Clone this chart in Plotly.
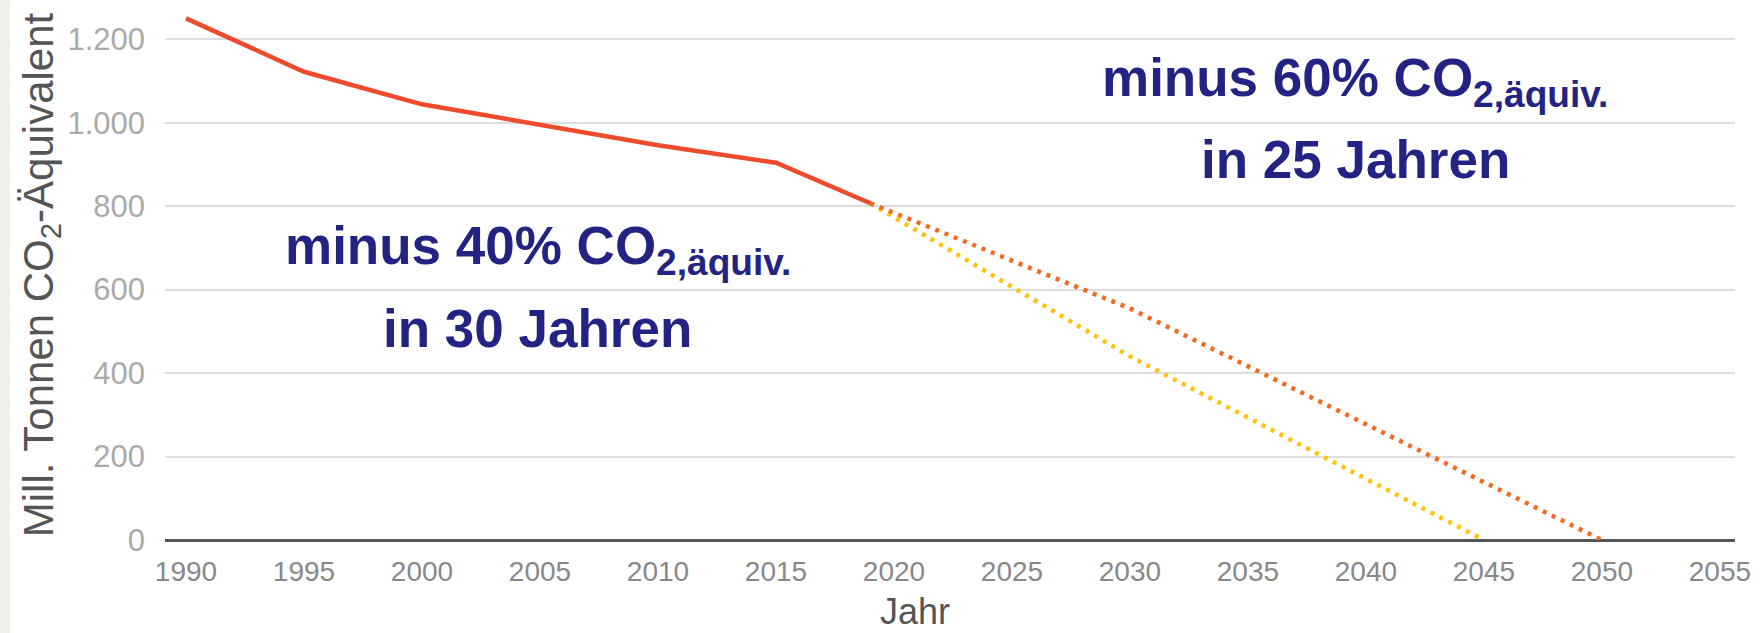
import plotly.graph_objects as go

# Historical emissions (Mill. t CO2-equivalent)
hist_years = [1990, 1995, 2000, 2005, 2010, 2015, 2019]
hist_values = [1250, 1122, 1044, 995, 946, 904, 807]

# Target path 2050 (orange dotted)
path2050_years = [2019, 2030, 2050]
path2050_values = [807, 555, 0]

# Target path 2045 (yellow dotted)
path2045_years = [2019, 2030, 2045]
path2045_values = [807, 440, 0]

x_ticks = [1990, 1995, 2000, 2005, 2010, 2015, 2020, 2025, 2030, 2035, 2040, 2045, 2050, 2055]
y_ticks = [0, 200, 400, 600, 800, 1000, 1200]
y_ticklabels = ["0", "200", "400", "600", "800", "1.000", "1.200"]

NAVY = "#232383"

fig = go.Figure()
fig.add_trace(go.Scatter(x=path2045_years, y=path2045_values, mode="lines",
                         line=dict(color="#ffc20e", width=4.5, dash="4px,6px"),
                         showlegend=False, hoverinfo="skip"))
fig.add_trace(go.Scatter(x=path2050_years, y=path2050_values, mode="lines",
                         line=dict(color="#f36a1e", width=4.5, dash="4px,6px"),
                         showlegend=False, hoverinfo="skip"))
fig.add_trace(go.Scatter(x=hist_years, y=hist_values, mode="lines",
                         line=dict(color="#ee4a2c", width=4.5),
                         showlegend=False))

ann_font = dict(family="Liberation Sans, Arial, sans-serif", size=53, color=NAVY)
annotations = [
    dict(x=2004.9, y=697, xref="x", yref="y", text="<b>minus 40% CO<sub>2,äquiv.</sub></b>",
         showarrow=False, font=ann_font, xanchor="center", yanchor="middle"),
    dict(x=2004.9, y=508, xref="x", yref="y", text="<b>in 30 Jahren</b>",
         showarrow=False, font=ann_font, xanchor="center", yanchor="middle"),
    dict(x=2039.55, y=1098, xref="x", yref="y", text="<b>minus 60% CO<sub>2,äquiv.</sub></b>",
         showarrow=False, font=ann_font, xanchor="center", yanchor="middle"),
    dict(x=2039.55, y=911, xref="x", yref="y", text="<b>in 25 Jahren</b>",
         showarrow=False, font=ann_font, xanchor="center", yanchor="middle"),
    # x-axis title
    dict(x=0, y=0, xref="paper", yref="paper", text="Jahr", showarrow=False,
         font=dict(family="Liberation Sans, Arial, sans-serif", size=36, color="#555555"),
         xanchor="center", yanchor="middle"),
]

L, R, T, B = 165, 26, 10, 93
W, H = 1761, 633
pw, ph = W - L - R, H - T - B
annotations[-1]["x"] = (915 - L) / pw
annotations[-1]["y"] = (H - B - 611) / ph

fig.update_layout(
    width=W, height=H,
    margin=dict(l=L, r=R, t=T, b=B, autoexpand=False),
    paper_bgcolor="white", plot_bgcolor="white",
    annotations=annotations,
    shapes=[dict(type="rect", xref="paper", yref="paper",
                 x0=-L / pw, x1=(-L + 10) / pw, y0=-B / ph, y1=1 + T / ph,
                 fillcolor="#edf1ea", line=dict(width=0), layer="below")],
    xaxis=dict(range=[1989.11, 2055.64], tickmode="array", tickvals=x_ticks,
               ticktext=[str(v) for v in x_ticks], showgrid=False, zeroline=False,
               showline=False, ticks="", ticklabelstandoff=12, automargin=False,
               tickfont=dict(family="Liberation Sans, Arial, sans-serif", size=28, color="#888888")),
    yaxis=dict(range=[0, 1270], tickmode="array", tickvals=y_ticks, ticktext=y_ticklabels,
               showgrid=True, gridcolor="#dddddd", gridwidth=2,
               zeroline=True, zerolinecolor="#555555", zerolinewidth=3,
               showline=False, ticks="", ticklabelstandoff=19, automargin=False,
               tickfont=dict(family="Liberation Sans, Arial, sans-serif", size=31, color="#aaaaaa"),
               title=dict(text="Mill. Tonnen CO<sub>2</sub>-Äquivalent", standoff=0,
                          font=dict(family="Liberation Sans, Arial, sans-serif", size=42, color="#555555"))),
)

fig.write_html("out.html", config={"displayModeBar": False},
               post_script="document.body.style.margin='0';document.body.style.overflow='hidden';")
